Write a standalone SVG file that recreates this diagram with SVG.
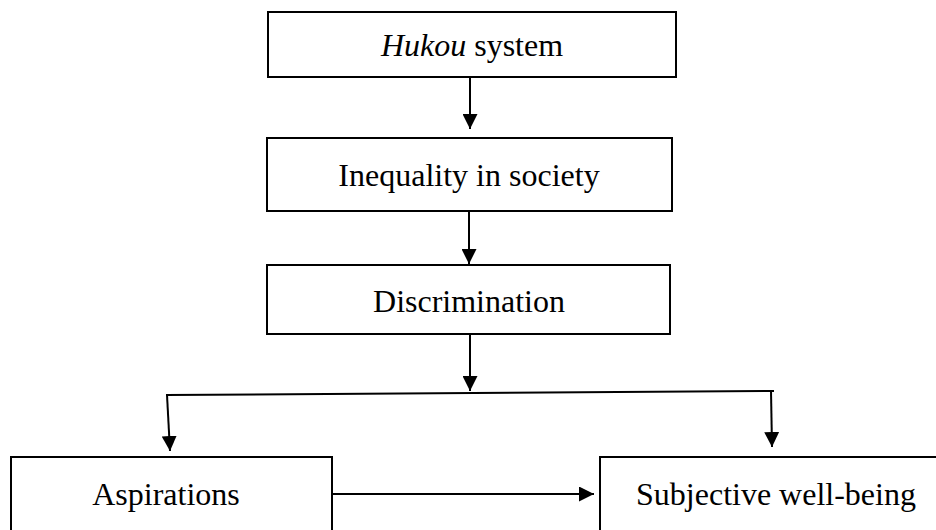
<svg xmlns="http://www.w3.org/2000/svg" width="936" height="530" viewBox="0 0 936 530">
<style>
.box{fill:#fff;stroke:#000;stroke-width:2}
.t{font-family:"Liberation Serif","Times New Roman",serif;font-size:32px;fill:#000;text-anchor:middle}
.c{stroke:#000;stroke-width:2;fill:none}
</style>
<defs>
<marker id="ah" viewBox="0 0 10 10" refX="10" refY="5" markerWidth="7.5" markerHeight="7.5" markerUnits="strokeWidth" orient="auto">
<path d="M0,0 L10,5 L0,10 Z" fill="#000"/>
</marker>
</defs>
<rect width="936" height="530" fill="#fff"/>
<g id="connectors">
<line class="c" x1="470" y1="77" x2="470" y2="129" marker-end="url(#ah)"/>
<line class="c" x1="469" y1="211" x2="469" y2="264" marker-end="url(#ah)"/>
<line class="c" x1="470" y1="334" x2="470" y2="391" marker-end="url(#ah)"/>
<line class="c" x1="166" y1="395" x2="774" y2="391"/>
<line class="c" x1="167" y1="395" x2="170" y2="451" marker-end="url(#ah)"/>
<line class="c" x1="771" y1="391" x2="772" y2="447" marker-end="url(#ah)"/>
<line class="c" x1="332" y1="494" x2="594" y2="494" stroke-width="2.5" marker-end="url(#ah)"/>
</g>
<g id="hukou">
<rect class="box" x="268" y="12" width="408" height="65"/>
<text class="t" x="472" y="56"><tspan font-style="italic">Hukou</tspan> system</text>
</g>
<g id="inequality">
<rect class="box" x="267" y="138" width="405" height="73"/>
<text class="t" x="469" y="186">Inequality in society</text>
</g>
<g id="discrimination">
<rect class="box" x="267" y="265" width="403" height="69"/>
<text class="t" x="469" y="312">Discrimination</text>
</g>
<g id="aspirations">
<rect class="box" x="11" y="457" width="321" height="80"/>
<text class="t" x="166" y="505">Aspirations</text>
</g>
<g id="swb">
<rect class="box" x="600" y="457" width="345" height="80"/>
<text class="t" x="776" y="505">Subjective well-being</text>
</g>
</svg>
